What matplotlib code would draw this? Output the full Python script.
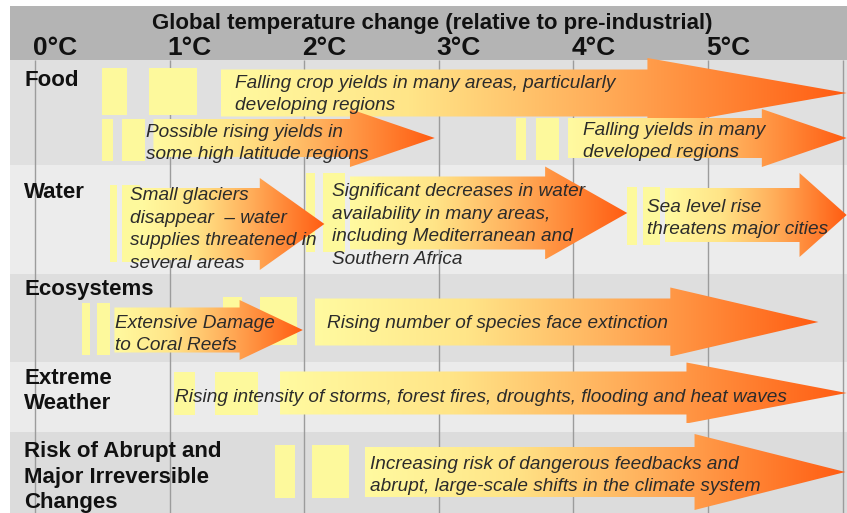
import numpy as np
import matplotlib
matplotlib.use("Agg")
import matplotlib.pyplot as plt
from matplotlib.colors import LinearSegmentedColormap
from matplotlib.patches import Polygon, Rectangle

plt.rcParams['font.family'] = ['Liberation Sans', 'DejaVu Sans']

# ---------------------------------------------------------------- data
title = "Global temperature change (relative to pre-industrial)"
temps = [0, 1, 2, 3, 4, 5, 6]
temp_labels = ["0°C", "1°C", "2°C", "3°C", "4°C", "5°C", ""]

sectors = ["Food", "Water", "Ecosystems", "Extreme\nWeather",
           "Risk of Abrupt and\nMajor Irreversible\nChanges"]

impact_text = [
    "Falling crop yields in many areas, particularly\ndeveloping regions",
    "Possible rising yields in\nsome high latitude regions",
    "Falling yields in many\ndeveloped regions",
    "Small glaciers\ndisappear  \u2013 water\nsupplies threatened in\nseveral areas",
    "Significant decreases in water\navailability in many areas,\nincluding Mediterranean and\nSouthern Africa",
    "Sea level rise\nthreatens major cities",
    "Extensive Damage\nto Coral Reefs",
    "Rising number of species face extinction",
    "Rising intensity of storms, forest fires, droughts, flooding and heat waves",
    "Increasing risk of dangerous feedbacks and\nabrupt, large-scale shifts in the climate system",
]
impact_row = [0, 0, 0, 1, 1, 1, 2, 2, 3, 4]
# warming (°C) where each arrow begins, where its head begins and where it points
impact_start = [1.38, 0.88, 3.96, 0.78, 2.34, 4.68, 0.59, 2.08, 1.82, 2.45]
impact_head = [4.55, 2.34, 5.40, 1.67, 3.79, 5.68, 1.52, 4.72, 4.84, 4.90]
impact_tip = [6.03, 2.97, 6.03, 2.15, 4.40, 6.03, 1.99, 5.82, 6.03, 6.02]

# two pale onset blocks ahead of each arrow (°C)
block1_start = [0.50, 0.50, 3.57, 0.56, 2.01, 4.40, 0.35, 1.40, 1.03, 1.78]
block1_end = [0.68, 0.58, 3.65, 0.61, 2.08, 4.47, 0.41, 1.54, 1.19, 1.93]
block2_start = [0.85, 0.65, 3.72, 0.65, 2.14, 4.52, 0.46, 1.67, 1.34, 2.06]
block2_end = [1.20, 0.82, 3.89, 0.78, 2.30, 4.64, 0.56, 1.95, 1.66, 2.33]

# ---------------------------------------------------------------- layout (pixel rows)
PX0, PX_PER_DEG = 35.0, 134.6
W, H = 847, 513
row_top = [60, 165, 274, 362, 432]
row_bot = [165, 274, 362, 432, 513]
row_color = ["#e0e0e0", "#ececec", "#dedede", "#ebebeb", "#dcdcdc"]
label_y = [80, 192, 290, 391, 477]

arrow_mid = [93, 138, 138, 224, 213, 215, 330, 322, 393, 472]
body_half = [23.5, 19, 20, 36, 36.5, 27, 22.5, 23.5, 21.5, 25]
head_half = [35, 29, 29, 46, 46.5, 42, 30, 34.5, 30.5, 38]
block_top = [68, 119, 118, 185, 173, 187, 303, 297, 372, 445]
block_bot = [115, 161, 160, 262, 252, 245, 355, 345, 415, 498]
text_x = [1.486, 0.825, 4.071, 0.706, 2.207, 4.547, 0.594, 2.169, 1.040, 2.489]
text_y = [94.5, 143.5, 141.5, 229.5, 225.5, 218.5, 334.5, 324, 397, 475.5]


def px(x):
    return (x - PX0) / PX_PER_DEG


fig = plt.figure(figsize=(W / 100, H / 100), dpi=100)
ax = fig.add_axes([0, 0, 1, 1])
ax.set_axis_off()

xl, xr = px(10), px(W + 5)

# header band
ax.add_patch(Rectangle((xl, 6), xr - xl, 54, facecolor="#b4b4b4",
                       edgecolor="none", zorder=0))
ax.text(px(432), 23.5, title, ha="center", va="center", fontsize=16,
        fontweight="bold", color="#111111", zorder=6)
for t, lab in zip(temps, temp_labels):
    ax.text(t - 0.015, 48, lab, ha="left", va="center", fontsize=19,
            fontweight="bold", color="#111111", zorder=6)

# sector rows
for i, name in enumerate(sectors):
    ax.add_patch(Rectangle((xl, row_top[i]), xr - xl, row_bot[i] - row_top[i],
                           facecolor=row_color[i], edgecolor="none", zorder=0))
    ax.text(px(24), label_y[i], name, ha="left", va="center", fontsize=16,
            fontweight="bold", color="#111111", linespacing=1.3, zorder=6)

ax.vlines(temps, 60, H, color="#9c9c9c", lw=1.0, zorder=1)

cmap = LinearSegmentedColormap.from_list(
    "warming",
    [(0.0, "#fffaa0"), (0.3, "#ffe588"), (0.6, "#ffae5a"),
     (0.85, "#ff7b2c"), (1.0, "#ff5c12")])
grad = np.linspace(0, 1, 256).reshape(1, -1)
block_color = "#fdf99c"

for i in range(len(impact_text)):
    # onset blocks
    for s, e in ((block1_start[i], block1_end[i]), (block2_start[i], block2_end[i])):
        ax.add_patch(Rectangle((s, block_top[i]), e - s, block_bot[i] - block_top[i],
                               facecolor=block_color, edgecolor="none", zorder=2))
    # gradient arrow
    m, b, h = arrow_mid[i], body_half[i], head_half[i]
    s, hd, tp = impact_start[i], impact_head[i], impact_tip[i]
    verts = [(s, m - b), (hd, m - b), (hd, m - h), (tp, m),
             (hd, m + h), (hd, m + b), (s, m + b)]
    poly = Polygon(verts, closed=True, facecolor="none", edgecolor="none", zorder=3)
    ax.add_patch(poly)
    im = ax.imshow(grad, extent=(s, tp, m + h, m - h), cmap=cmap, aspect="auto",
                   interpolation="bilinear", zorder=3)
    im.set_clip_path(poly)
    ax.text(text_x[i], text_y[i], impact_text[i], ha="left", va="center",
            fontsize=13.7, style="italic", color="#2b2b2b", linespacing=1.42,
            zorder=5)

ax.set_xlim(px(0), px(W))
ax.set_ylim(H, 0)
fig.savefig("out.png", dpi=100, facecolor="white")
